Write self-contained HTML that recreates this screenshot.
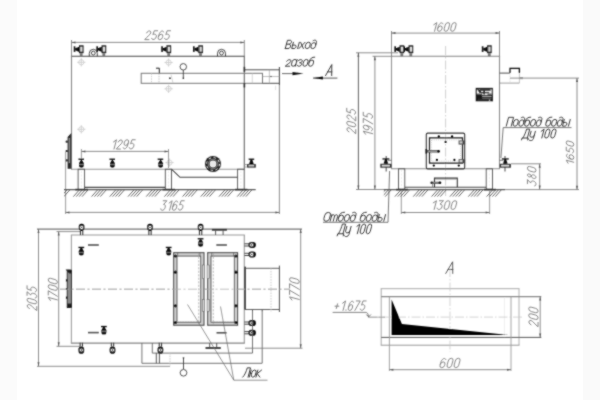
<!DOCTYPE html><html><head><meta charset="utf-8"><title>drawing</title><style>html,body{margin:0;padding:0;background:#fff;width:600px;height:400px;overflow:hidden}svg{display:block}text{font-family:"Liberation Sans",sans-serif;font-style:italic}</style></head><body>
<svg width="600" height="400" viewBox="0 0 600 400" shape-rendering="geometricPrecision">
<defs><clipPath id="clip64"><rect x="64" y="185" width="192" height="15"/></clipPath><clipPath id="clip383"><rect x="383.8" y="185" width="118" height="15"/></clipPath><filter id="bl" x="0" y="0" width="600" height="400" filterUnits="userSpaceOnUse"><feConvolveMatrix order="3" kernelMatrix="1 2 1 2 12 2 1 2 1" preserveAlpha="false"/></filter></defs>
<rect x="0" y="0" width="600" height="400" fill="#fff"/>
<rect x="0" y="0" width="17" height="400" fill="#fbfbfb"/>
<rect x="583" y="0" width="17" height="400" fill="#fafafa"/>
<g filter="url(#bl)">
<line x1="70.95" y1="56.3" x2="244.85000000000002" y2="56.3" stroke="#444" stroke-width="1.1" />
<line x1="244.3" y1="56.3" x2="244.3" y2="169.2" stroke="#666" stroke-width="1.1" />
<line x1="70.95" y1="169.2" x2="244.85000000000002" y2="169.2" stroke="#999" stroke-width="1.1" />
<line x1="71.5" y1="56.3" x2="71.5" y2="169.2" stroke="#888" stroke-width="1.1" />
<line x1="71.5" y1="40" x2="71.5" y2="56.3" stroke="#707070" stroke-width="0.8" />
<line x1="244.3" y1="40" x2="244.3" y2="56.3" stroke="#707070" stroke-width="0.8" />
<line x1="71.5" y1="42.4" x2="244.3" y2="42.4" stroke="#707070" stroke-width="0.8" />
<polygon points="71.5,42.4 75.5,41.4 75.5,43.4" fill="#555" stroke="none" stroke-width="0"/>
<polygon points="244.3,42.4 240.3,41.4 240.3,43.4" fill="#555" stroke="none" stroke-width="0"/>
<g transform="translate(144.75,39.65) skewX(-15) scale(0.9786,0.8900)" fill="none" stroke="#808080" stroke-width="0.95" stroke-linecap="round" stroke-linejoin="round"><path vector-effect="non-scaling-stroke" transform="translate(0.000,0) scale(0.86,1)" d="M0.1,-7.6 C0.3,-10.6 5,-10.6 5,-7.5 C5,-5.4 1.5,-3.2 0,0 L5,0"/><path vector-effect="non-scaling-stroke" transform="translate(6.600,0) scale(0.86,1)" d="M4.8,-10 L0.8,-10 L0.4,-5.6 C1.2,-6.4 5.1,-6.8 5.1,-3 C5.1,0.6 0.6,0.5 0,-1.5"/><path vector-effect="non-scaling-stroke" transform="translate(13.200,0) scale(0.86,1)" d="M4.7,-8.6 C4,-10.5 0,-10.6 0,-5.4 L0,-2.5 A2.5,2.5 0 0 0 5,-2.5 L5,-3.6 A2.5,2.5 0 0 0 0,-3.6"/><path vector-effect="non-scaling-stroke" transform="translate(19.800,0) scale(0.86,1)" d="M4.8,-10 L0.8,-10 L0.4,-5.6 C1.2,-6.4 5.1,-6.8 5.1,-3 C5.1,0.6 0.6,0.5 0,-1.5"/></g>
<g transform="translate(81.4,56.3)"><rect x="-7.7" y="-10" width="1.7" height="5.6" fill="#1a1a1a"/><polygon points="-6.2,-8 -2.2,-9.6 -2.2,-4.2 -6.2,-6" fill="#111"/><rect x="-2.4" y="-11" width="4.6" height="7.9" fill="#111"/><rect x="-1.2" y="-9.6" width="2.3" height="5.0" fill="#d8d8d8"/><rect x="-1.6" y="-3.2" width="2.8" height="3.2" fill="#777"/></g>
<g transform="translate(104.0,56.3)"><rect x="-7.7" y="-10" width="1.7" height="5.6" fill="#1a1a1a"/><polygon points="-6.2,-8 -2.2,-9.6 -2.2,-4.2 -6.2,-6" fill="#111"/><rect x="-2.4" y="-11" width="4.6" height="7.9" fill="#111"/><rect x="-1.2" y="-9.6" width="2.3" height="5.0" fill="#d8d8d8"/><rect x="-1.6" y="-3.2" width="2.8" height="3.2" fill="#777"/></g>
<g transform="translate(168.9,56.3)"><rect x="-7.7" y="-10" width="1.7" height="5.6" fill="#1a1a1a"/><polygon points="-6.2,-8 -2.2,-9.6 -2.2,-4.2 -6.2,-6" fill="#111"/><rect x="-2.4" y="-11" width="4.6" height="7.9" fill="#111"/><rect x="-1.2" y="-9.6" width="2.3" height="5.0" fill="#d8d8d8"/><rect x="-1.6" y="-3.2" width="2.8" height="3.2" fill="#777"/></g>
<g transform="translate(200.7,56.3)"><rect x="-7.7" y="-10" width="1.7" height="5.6" fill="#1a1a1a"/><polygon points="-6.2,-8 -2.2,-9.6 -2.2,-4.2 -6.2,-6" fill="#111"/><rect x="-2.4" y="-11" width="4.6" height="7.9" fill="#111"/><rect x="-1.2" y="-9.6" width="2.3" height="5.0" fill="#d8d8d8"/><rect x="-1.6" y="-3.2" width="2.8" height="3.2" fill="#777"/></g>
<g transform="translate(93.3,56.3)" fill="none" stroke="#333" stroke-width="0.9"><path d="M-4,0 L-4,-3 A4,4 0 0 1 4,-3 L4,0"/><circle cx="0" cy="-3.2" r="1.9"/></g>
<g transform="translate(221.5,56.3)" fill="none" stroke="#333" stroke-width="0.9"><path d="M-4,0 L-4,-3 A4,4 0 0 1 4,-3 L4,0"/><circle cx="0" cy="-3.2" r="1.9"/></g>
<g stroke="#c4c4c4" stroke-width="0.7" fill="none"><circle cx="81.3" cy="62.3" r="2.6"/><line x1="77.1" y1="62.3" x2="85.5" y2="62.3"/><line x1="81.3" y1="58.099999999999994" x2="81.3" y2="66.5"/></g>
<g stroke="#c4c4c4" stroke-width="0.7" fill="none"><circle cx="168.6" cy="62.5" r="2.6"/><line x1="164.4" y1="62.5" x2="172.79999999999998" y2="62.5"/><line x1="168.6" y1="58.3" x2="168.6" y2="66.7"/></g>
<g stroke="#c4c4c4" stroke-width="0.7" fill="none"><circle cx="168.6" cy="88.8" r="2.6"/><line x1="164.4" y1="88.8" x2="172.79999999999998" y2="88.8"/><line x1="168.6" y1="84.6" x2="168.6" y2="93.0"/></g>
<g stroke="#c4c4c4" stroke-width="0.7" fill="none"><circle cx="81.3" cy="129.3" r="2.6"/><line x1="77.1" y1="129.3" x2="85.5" y2="129.3"/><line x1="81.3" y1="125.10000000000001" x2="81.3" y2="133.5"/></g>
<g stroke="#c4c4c4" stroke-width="0.7" fill="none"><circle cx="169.5" cy="162.6" r="2.6"/><line x1="165.3" y1="162.6" x2="173.7" y2="162.6"/><line x1="169.5" y1="158.4" x2="169.5" y2="166.79999999999998"/></g>
<rect x="141.2" y="73.3" width="121.3" height="10.0" stroke="#777" stroke-width="1.0" fill="none" />
<line x1="151.5" y1="73.3" x2="151.5" y2="83.3" stroke="#bbb" stroke-width="0.7" stroke-dasharray="1.5,1"/>
<line x1="159.0" y1="73.3" x2="159.0" y2="83.3" stroke="#aaa" stroke-width="0.7" stroke-dasharray="1.5,1"/>
<path d="M156,68.2 L159.3,68.2 L159.3,73.3" fill="none" stroke="#222" stroke-width="1"/>
<circle cx="170" cy="78.2" r="0.9" fill="#222"/>
<line x1="171" y1="74.5" x2="173" y2="83" stroke="#bbb" stroke-width="0.6" />
<circle cx="183.3" cy="66.8" r="3.2" fill="#fff" stroke="#222" stroke-width="0.9"/>
<line x1="183.3" y1="70" x2="183.3" y2="78.2" stroke="#222" stroke-width="0.8" />
<circle cx="183.3" cy="78.2" r="0.8" fill="#222"/>
<line x1="244.3" y1="69.8" x2="279.4" y2="69.8" stroke="#505050" stroke-width="1.0" />
<line x1="262.5" y1="83.3" x2="279.4" y2="83.3" stroke="#505050" stroke-width="1.0" />
<line x1="279.4" y1="66.9" x2="279.4" y2="85.6" stroke="#505050" stroke-width="1.1" />
<line x1="252.3" y1="73.3" x2="252.3" y2="83.3" stroke="#bbb" stroke-width="0.6" />
<line x1="269.4" y1="69.8" x2="269.4" y2="83.3" stroke="#999" stroke-width="0.6" />
<line x1="262.5" y1="76.5" x2="279.4" y2="76.5" stroke="#999" stroke-width="0.6" />
<circle cx="271" cy="76.5" r="0.7" fill="#444"/>
<rect x="243.6" y="66.8" width="1.6" height="5" fill="#333"/>
<rect x="243.6" y="83.0" width="1.6" height="4.5" fill="#333"/>
<line x1="279.4" y1="85.6" x2="279.4" y2="214" stroke="#707070" stroke-width="0.8" />
<line x1="275.6" y1="85.6" x2="275.6" y2="90" stroke="#ccc" stroke-width="0.6" />
<line x1="282" y1="73.6" x2="300" y2="73.6" stroke="#444" stroke-width="0.8" />
<polygon points="303.5,73.6 292.5,71.9 292.5,75.3" fill="#111" stroke="none" stroke-width="0"/>
<g transform="translate(285.25,48.55) skewX(-15) scale(0.9532,0.8245)" fill="none" stroke="#3a3a3a" stroke-width="1.0" stroke-linecap="round" stroke-linejoin="round"><path vector-effect="non-scaling-stroke" transform="translate(0.000,0) scale(1.0,1)" d="M0,0 L0,-10 L2.9,-10 C5.3,-10 5.3,-5.3 2.9,-5.3 L0,-5.3 M2.9,-5.3 C5.8,-5.3 5.8,0 2.9,0 L0,0"/><path vector-effect="non-scaling-stroke" transform="translate(6.800,0) scale(1.0,1)" d="M0,-7.6 L0,0 L2.4,0 C4.5,0 4.5,-4.2 2.4,-4.2 L0,-4.2 M6.2,-7.6 L6.2,0"/><path vector-effect="non-scaling-stroke" transform="translate(14.400,0) scale(1.0,1)" d="M0,-7.6 L4.6,0 M4.6,-7.6 L0,0"/><path vector-effect="non-scaling-stroke" transform="translate(20.400,0) scale(1.0,1)" d="M0,-5.3 A2.3,2.3 0 0 1 4.6,-5.3 L4.6,-2.3 A2.3,2.3 0 0 1 0,-2.3 Z"/><path vector-effect="non-scaling-stroke" transform="translate(26.400,0) scale(1.0,1)" d="M0.6,-9.6 C1.8,-10.6 4.6,-10.6 4.6,-7.4 L4.6,-2.3 A2.3,2.3 0 0 1 0,-2.3 L0,-4.8 A2.3,2.3 0 0 1 4.6,-4.8"/></g>
<g transform="translate(285.25,66.21) skewX(-15) scale(0.9533,0.8879)" fill="none" stroke="#3a3a3a" stroke-width="1.0" stroke-linecap="round" stroke-linejoin="round"><path vector-effect="non-scaling-stroke" transform="translate(0.000,0) scale(1.0,1)" d="M0.1,-5.6 C0.4,-8 4.6,-8 4.6,-5.6 C4.6,-3.8 1.4,-2.4 0,0 L4.6,0"/><path vector-effect="non-scaling-stroke" transform="translate(6.000,0) scale(1.0,1)" d="M4.6,-7.6 L4.6,0 M4.6,-2.3 A2.3,2.3 0 0 1 0,-2.3 L0,-5.3 A2.3,2.3 0 0 1 4.6,-5.3"/><path vector-effect="non-scaling-stroke" transform="translate(12.000,0) scale(1.0,1)" d="M0,-6 C0.5,-8 4.4,-8 4.4,-5.8 C4.4,-4.4 3.2,-3.9 2,-3.9 C3.5,-3.9 4.6,-3.2 4.6,-1.9 C4.6,0.6 0.5,0.5 0,-1.1"/><path vector-effect="non-scaling-stroke" transform="translate(18.000,0) scale(1.0,1)" d="M0,-5.3 A2.3,2.3 0 0 1 4.6,-5.3 L4.6,-2.3 A2.3,2.3 0 0 1 0,-2.3 Z"/><path vector-effect="non-scaling-stroke" transform="translate(24.000,0) scale(1.0,1)" d="M4.4,-10.2 C1.4,-10.2 0,-9 0,-5.6 L0,-2.3 A2.3,2.3 0 0 0 4.6,-2.3 L4.6,-4.6 A2.3,2.3 0 0 0 0,-4.6"/></g>
<line x1="313" y1="78.1" x2="337.4" y2="78.1" stroke="#444" stroke-width="0.9" />
<polygon points="313,78.1 323,76.6 323,79.6" fill="#111" stroke="none" stroke-width="0"/>
<g transform="translate(325.55,75.65) skewX(-15) scale(1.0578,1.1100)" fill="none" stroke="#3a3a3a" stroke-width="1.0" stroke-linecap="round" stroke-linejoin="round"><path vector-effect="non-scaling-stroke" transform="translate(0.000,0) scale(1.0,1)" d="M0,0 L3.1,-10 L5.8,0 M1.05,-3.4 L5.0,-3.4"/></g>
<path d="M71.3,133 L71.3,168.8 L67.6,168.8 L67.6,137 Z" fill="#2a2a2a"/>
<rect x="68.7" y="138" width="1.3" height="25" fill="#8a8a8a"/>
<rect x="65.7" y="140.6" width="2.2" height="2.2" rx="0.6" fill="#333"/>
<rect x="65.7" y="149.9" width="2.2" height="2.2" rx="0.6" fill="#333"/>
<rect x="65.7" y="159.3" width="2.2" height="2.2" rx="0.6" fill="#333"/>
<line x1="65.6" y1="151.5" x2="65.6" y2="214" stroke="#707070" stroke-width="0.7" />
<line x1="81.4" y1="149" x2="81.4" y2="158.5" stroke="#707070" stroke-width="0.7" />
<line x1="168.5" y1="149" x2="168.5" y2="168" stroke="#707070" stroke-width="0.7" />
<line x1="81.4" y1="151.4" x2="168.5" y2="151.4" stroke="#707070" stroke-width="0.8" />
<polygon points="81.4,151.4 85.4,150.4 85.4,152.4" fill="#555" stroke="none" stroke-width="0"/>
<polygon points="168.5,151.4 164.5,150.4 164.5,152.4" fill="#555" stroke="none" stroke-width="0"/>
<g transform="translate(110.74,149.05) skewX(-15) scale(0.9474,0.9300)" fill="none" stroke="#808080" stroke-width="0.95" stroke-linecap="round" stroke-linejoin="round"><path vector-effect="non-scaling-stroke" transform="translate(0.000,0) scale(0.86,1)" d="M1.0,-7.6 L4,-10 L4,0"/><path vector-effect="non-scaling-stroke" transform="translate(5.912,0) scale(0.86,1)" d="M0.1,-7.6 C0.3,-10.6 5,-10.6 5,-7.5 C5,-5.4 1.5,-3.2 0,0 L5,0"/><path vector-effect="non-scaling-stroke" transform="translate(12.512,0) scale(0.86,1)" d="M0.3,-1.4 C1,0.5 5,0.6 5,-4.6 L5,-7.5 A2.5,2.5 0 0 0 0,-7.5 L0,-6.4 A2.5,2.5 0 0 0 5,-6.4"/><path vector-effect="non-scaling-stroke" transform="translate(19.112,0) scale(0.86,1)" d="M4.8,-10 L0.8,-10 L0.4,-5.6 C1.2,-6.4 5.1,-6.8 5.1,-3 C5.1,0.6 0.6,0.5 0,-1.5"/></g>
<g transform="translate(81.4,159.2)"><rect x="-3" y="-0.6" width="5.6" height="1.3" fill="#111"/><rect x="-0.7" y="0" width="1.4" height="2" fill="#111"/><path d="M-1.2,1.8 L1.2,1.8 L2.4,4 L2.4,6.5 Q2.4,8.6 0,8.6 Q-2.4,8.6 -2.4,6.5 L-2.4,4 Z" fill="#111"/><rect x="-2.4" y="5.1" width="4.8" height="0.6" fill="#aaa"/></g>
<g transform="translate(112.4,159.2)"><rect x="-3" y="-0.6" width="5.6" height="1.3" fill="#111"/><rect x="-0.7" y="0" width="1.4" height="2" fill="#111"/><path d="M-1.2,1.8 L1.2,1.8 L2.4,4 L2.4,6.5 Q2.4,8.6 0,8.6 Q-2.4,8.6 -2.4,6.5 L-2.4,4 Z" fill="#111"/><rect x="-2.4" y="5.1" width="4.8" height="0.6" fill="#aaa"/></g>
<g transform="translate(160.6,159.2)"><rect x="-3" y="-0.6" width="5.6" height="1.3" fill="#111"/><rect x="-0.7" y="0" width="1.4" height="2" fill="#111"/><path d="M-1.2,1.8 L1.2,1.8 L2.4,4 L2.4,6.5 Q2.4,8.6 0,8.6 Q-2.4,8.6 -2.4,6.5 L-2.4,4 Z" fill="#111"/><rect x="-2.4" y="5.1" width="4.8" height="0.6" fill="#aaa"/></g>
<rect x="78.1" y="169.2" width="6.5" height="20.2" stroke="#505050" stroke-width="0.9" fill="none" />
<line x1="81.4" y1="171" x2="81.4" y2="188" stroke="#e2e2e2" stroke-width="0.6" stroke-dasharray="2,1.5"/>
<rect x="165.3" y="169.2" width="6.2" height="20.2" stroke="#505050" stroke-width="0.9" fill="none" />
<line x1="168.4" y1="171" x2="168.4" y2="188" stroke="#e2e2e2" stroke-width="0.6" stroke-dasharray="2,1.5"/>
<rect x="237.6" y="169.2" width="6.6" height="20.2" stroke="#505050" stroke-width="0.9" fill="none" />
<line x1="240.9" y1="171" x2="240.9" y2="188" stroke="#e2e2e2" stroke-width="0.6" stroke-dasharray="2,1.5"/>
<line x1="84.6" y1="187.3" x2="165.3" y2="187.3" stroke="#444" stroke-width="1.2" />
<path d="M171.5,169.2 L180,177.3 L237.6,177.3" fill="none" stroke="#444" stroke-width="1.1"/>
<g transform="translate(213.0,164.0)"><circle r="8" fill="#1a1a1a"/><circle r="6.4" fill="none" stroke="#e8e8e8" stroke-width="1.0" stroke-dasharray="2.3,2.7"/><circle r="4.75" fill="none" stroke="#c8c8c8" stroke-width="0.6"/><circle r="3.4" fill="#e8e8e8"/></g>
<line x1="244.3" y1="164.6" x2="247" y2="164.6" stroke="#888" stroke-width="0.8" />
<line x1="244.3" y1="167.0" x2="247" y2="167.0" stroke="#888" stroke-width="0.8" />
<g><rect x="248.60" y="158.60" width="5.6" height="1.3" fill="#111"/><polygon points="250.60,159.20 252.20,159.20 253.70,164.10 249.10,164.10" fill="#111"/><rect x="247.05" y="164.10" width="8.7" height="3.50" fill="#1a1a1a"/><rect x="248.35" y="165.10" width="5.90" height="1.40" fill="#d8d8d8"/></g>
<line x1="64" y1="189.7" x2="255.7" y2="189.7" stroke="#5a5a5a" stroke-width="1.3" />
<rect x="75.2" y="188.8" width="12.8" height="1.6" fill="#333"/>
<rect x="162.5" y="188.8" width="12.5" height="1.6" fill="#333"/>
<rect x="235" y="188.8" width="12.5" height="1.6" fill="#333"/>
<g stroke="#5a5a5a" stroke-width="0.9" clip-path="url(#clip64)">
<line x1="55.20" y1="196.6" x2="61.20" y2="189.8"/>
<line x1="58.10" y1="196.6" x2="64.10" y2="189.8"/>
<line x1="61.00" y1="196.6" x2="67.00" y2="189.8"/>
<line x1="63.90" y1="196.6" x2="69.90" y2="189.8"/>
<line x1="73.40" y1="196.6" x2="79.40" y2="189.8"/>
<line x1="76.30" y1="196.6" x2="82.30" y2="189.8"/>
<line x1="79.20" y1="196.6" x2="85.20" y2="189.8"/>
<line x1="82.10" y1="196.6" x2="88.10" y2="189.8"/>
<line x1="91.60" y1="196.6" x2="97.60" y2="189.8"/>
<line x1="94.50" y1="196.6" x2="100.50" y2="189.8"/>
<line x1="97.40" y1="196.6" x2="103.40" y2="189.8"/>
<line x1="100.30" y1="196.6" x2="106.30" y2="189.8"/>
<line x1="109.80" y1="196.6" x2="115.80" y2="189.8"/>
<line x1="112.70" y1="196.6" x2="118.70" y2="189.8"/>
<line x1="115.60" y1="196.6" x2="121.60" y2="189.8"/>
<line x1="118.50" y1="196.6" x2="124.50" y2="189.8"/>
<line x1="128.00" y1="196.6" x2="134.00" y2="189.8"/>
<line x1="130.90" y1="196.6" x2="136.90" y2="189.8"/>
<line x1="133.80" y1="196.6" x2="139.80" y2="189.8"/>
<line x1="136.70" y1="196.6" x2="142.70" y2="189.8"/>
<line x1="146.20" y1="196.6" x2="152.20" y2="189.8"/>
<line x1="149.10" y1="196.6" x2="155.10" y2="189.8"/>
<line x1="152.00" y1="196.6" x2="158.00" y2="189.8"/>
<line x1="154.90" y1="196.6" x2="160.90" y2="189.8"/>
<line x1="164.40" y1="196.6" x2="170.40" y2="189.8"/>
<line x1="167.30" y1="196.6" x2="173.30" y2="189.8"/>
<line x1="170.20" y1="196.6" x2="176.20" y2="189.8"/>
<line x1="173.10" y1="196.6" x2="179.10" y2="189.8"/>
<line x1="182.60" y1="196.6" x2="188.60" y2="189.8"/>
<line x1="185.50" y1="196.6" x2="191.50" y2="189.8"/>
<line x1="188.40" y1="196.6" x2="194.40" y2="189.8"/>
<line x1="191.30" y1="196.6" x2="197.30" y2="189.8"/>
<line x1="200.80" y1="196.6" x2="206.80" y2="189.8"/>
<line x1="203.70" y1="196.6" x2="209.70" y2="189.8"/>
<line x1="206.60" y1="196.6" x2="212.60" y2="189.8"/>
<line x1="209.50" y1="196.6" x2="215.50" y2="189.8"/>
<line x1="219.00" y1="196.6" x2="225.00" y2="189.8"/>
<line x1="221.90" y1="196.6" x2="227.90" y2="189.8"/>
<line x1="224.80" y1="196.6" x2="230.80" y2="189.8"/>
<line x1="227.70" y1="196.6" x2="233.70" y2="189.8"/>
<line x1="237.20" y1="196.6" x2="243.20" y2="189.8"/>
<line x1="240.10" y1="196.6" x2="246.10" y2="189.8"/>
<line x1="243.00" y1="196.6" x2="249.00" y2="189.8"/>
<line x1="245.90" y1="196.6" x2="251.90" y2="189.8"/>
</g>
<line x1="65.5" y1="212.4" x2="279.4" y2="212.4" stroke="#707070" stroke-width="0.8" />
<polygon points="65.5,212.4 69.5,211.4 69.5,213.4" fill="#555" stroke="none" stroke-width="0"/>
<polygon points="279.4,212.4 275.4,211.4 275.4,213.4" fill="#555" stroke="none" stroke-width="0"/>
<g transform="translate(160.37,210.25) skewX(-15) scale(0.9181,0.9500)" fill="none" stroke="#808080" stroke-width="0.95" stroke-linecap="round" stroke-linejoin="round"><path vector-effect="non-scaling-stroke" transform="translate(0.000,0) scale(0.86,1)" d="M0.4,-10 L5,-10 L2.1,-6.1 C4,-6.2 5.1,-5 5.1,-3 C5.1,-0.6 3.6,0 2.5,0 C1.2,0 0.3,-0.5 0,-1.5"/><path vector-effect="non-scaling-stroke" transform="translate(6.600,0) scale(0.86,1)" d="M1.0,-7.6 L4,-10 L4,0"/><path vector-effect="non-scaling-stroke" transform="translate(12.512,0) scale(0.86,1)" d="M4.7,-8.6 C4,-10.5 0,-10.6 0,-5.4 L0,-2.5 A2.5,2.5 0 0 0 5,-2.5 L5,-3.6 A2.5,2.5 0 0 0 0,-3.6"/><path vector-effect="non-scaling-stroke" transform="translate(19.112,0) scale(0.86,1)" d="M4.8,-10 L0.8,-10 L0.4,-5.6 C1.2,-6.4 5.1,-6.8 5.1,-3 C5.1,0.6 0.6,0.5 0,-1.5"/></g>
<line x1="390.95" y1="56.3" x2="500.05" y2="56.3" stroke="#858585" stroke-width="1.1" />
<line x1="499.5" y1="56.3" x2="499.5" y2="168.8" stroke="#8a8a8a" stroke-width="1.1" />
<line x1="390.95" y1="168.8" x2="500.05" y2="168.8" stroke="#8a8a8a" stroke-width="1.1" />
<line x1="391.5" y1="56.3" x2="391.5" y2="168.8" stroke="#939393" stroke-width="1.1" />
<line x1="391.5" y1="31" x2="391.5" y2="56.3" stroke="#707070" stroke-width="0.8" />
<line x1="499.5" y1="31" x2="499.5" y2="56.3" stroke="#707070" stroke-width="0.8" />
<line x1="391.5" y1="33.1" x2="499.5" y2="33.1" stroke="#707070" stroke-width="0.8" />
<polygon points="391.5,33.1 395.5,32.1 395.5,34.1" fill="#555" stroke="none" stroke-width="0"/>
<polygon points="499.5,33.1 495.5,32.1 495.5,34.1" fill="#555" stroke="none" stroke-width="0"/>
<g transform="translate(431.15,31.25) skewX(-15) scale(0.9909,0.8600)" fill="none" stroke="#808080" stroke-width="0.95" stroke-linecap="round" stroke-linejoin="round"><path vector-effect="non-scaling-stroke" transform="translate(0.000,0) scale(0.86,1)" d="M1.0,-7.6 L4,-10 L4,0"/><path vector-effect="non-scaling-stroke" transform="translate(5.912,0) scale(0.86,1)" d="M4.7,-8.6 C4,-10.5 0,-10.6 0,-5.4 L0,-2.5 A2.5,2.5 0 0 0 5,-2.5 L5,-3.6 A2.5,2.5 0 0 0 0,-3.6"/><path vector-effect="non-scaling-stroke" transform="translate(12.512,0) scale(0.86,1)" d="M0,-7.5 A2.5,2.5 0 0 1 5,-7.5 L5,-2.5 A2.5,2.5 0 0 1 0,-2.5 Z"/><path vector-effect="non-scaling-stroke" transform="translate(19.112,0) scale(0.86,1)" d="M0,-7.5 A2.5,2.5 0 0 1 5,-7.5 L5,-2.5 A2.5,2.5 0 0 1 0,-2.5 Z"/></g>
<g transform="translate(402.0,56.3)"><rect x="-7.7" y="-10" width="1.7" height="5.6" fill="#1a1a1a"/><polygon points="-6.2,-8 -2.2,-9.6 -2.2,-4.2 -6.2,-6" fill="#111"/><rect x="-2.4" y="-11" width="4.6" height="7.9" fill="#111"/><rect x="-1.2" y="-9.6" width="2.3" height="5.0" fill="#d8d8d8"/><rect x="-1.6" y="-3.2" width="2.8" height="3.2" fill="#777"/></g>
<g transform="translate(411.0,56.3)"><rect x="-7.7" y="-10" width="1.7" height="5.6" fill="#1a1a1a"/><polygon points="-6.2,-8 -2.2,-9.6 -2.2,-4.2 -6.2,-6" fill="#111"/><rect x="-2.4" y="-11" width="4.6" height="7.9" fill="#111"/><rect x="-1.2" y="-9.6" width="2.3" height="5.0" fill="#d8d8d8"/><rect x="-1.6" y="-3.2" width="2.8" height="3.2" fill="#777"/></g>
<g transform="translate(489.5,56.3)"><rect x="-7.7" y="-10" width="1.7" height="5.6" fill="#1a1a1a"/><polygon points="-6.2,-8 -2.2,-9.6 -2.2,-4.2 -6.2,-6" fill="#111"/><rect x="-2.4" y="-11" width="4.6" height="7.9" fill="#111"/><rect x="-1.2" y="-9.6" width="2.3" height="5.0" fill="#d8d8d8"/><rect x="-1.6" y="-3.2" width="2.8" height="3.2" fill="#777"/></g>
<line x1="445.6" y1="46" x2="445.6" y2="196" stroke="#bbb" stroke-width="0.7" stroke-dasharray="9,2,1.5,2"/>
<line x1="356" y1="52.8" x2="398" y2="52.8" stroke="#707070" stroke-width="0.8" />
<line x1="372.5" y1="56.3" x2="391.5" y2="56.3" stroke="#707070" stroke-width="0.8" />
<line x1="358.4" y1="52.8" x2="358.4" y2="189.5" stroke="#505050" stroke-width="0.9" />
<polygon points="358.4,52.8 357.4,56.8 359.4,56.8" fill="#555" stroke="none" stroke-width="0"/>
<polygon points="358.4,189.5 357.4,185.5 359.4,185.5" fill="#555" stroke="none" stroke-width="0"/>
<line x1="374.9" y1="56.3" x2="374.9" y2="189.5" stroke="#707070" stroke-width="0.8" />
<polygon points="374.9,56.3 373.9,60.3 375.9,60.3" fill="#555" stroke="none" stroke-width="0"/>
<polygon points="374.9,189.5 373.9,185.5 375.9,185.5" fill="#555" stroke="none" stroke-width="0"/>
<line x1="356" y1="189.5" x2="391.5" y2="189.5" stroke="#707070" stroke-width="0.8" />
<g transform="translate(346.30,134.20) rotate(-90) translate(0.45,9.45) skewX(-15) scale(0.9649,0.9000)" fill="none" stroke="#808080" stroke-width="0.95" stroke-linecap="round" stroke-linejoin="round"><path vector-effect="non-scaling-stroke" transform="translate(0.000,0) scale(0.86,1)" d="M0.1,-7.6 C0.3,-10.6 5,-10.6 5,-7.5 C5,-5.4 1.5,-3.2 0,0 L5,0"/><path vector-effect="non-scaling-stroke" transform="translate(6.600,0) scale(0.86,1)" d="M0,-7.5 A2.5,2.5 0 0 1 5,-7.5 L5,-2.5 A2.5,2.5 0 0 1 0,-2.5 Z"/><path vector-effect="non-scaling-stroke" transform="translate(13.200,0) scale(0.86,1)" d="M0.1,-7.6 C0.3,-10.6 5,-10.6 5,-7.5 C5,-5.4 1.5,-3.2 0,0 L5,0"/><path vector-effect="non-scaling-stroke" transform="translate(19.800,0) scale(0.86,1)" d="M4.8,-10 L0.8,-10 L0.4,-5.6 C1.2,-6.4 5.1,-6.8 5.1,-3 C5.1,0.6 0.6,0.5 0,-1.5"/></g>
<g transform="translate(362.80,134.70) rotate(-90) translate(-2.31,9.95) skewX(-15) scale(0.9557,0.9500)" fill="none" stroke="#808080" stroke-width="0.95" stroke-linecap="round" stroke-linejoin="round"><path vector-effect="non-scaling-stroke" transform="translate(0.000,0) scale(0.86,1)" d="M1.0,-7.6 L4,-10 L4,0"/><path vector-effect="non-scaling-stroke" transform="translate(5.912,0) scale(0.86,1)" d="M0.3,-1.4 C1,0.5 5,0.6 5,-4.6 L5,-7.5 A2.5,2.5 0 0 0 0,-7.5 L0,-6.4 A2.5,2.5 0 0 0 5,-6.4"/><path vector-effect="non-scaling-stroke" transform="translate(12.512,0) scale(0.86,1)" d="M0,-10 L5,-10 L1.4,0"/><path vector-effect="non-scaling-stroke" transform="translate(19.112,0) scale(0.86,1)" d="M4.8,-10 L0.8,-10 L0.4,-5.6 C1.2,-6.4 5.1,-6.8 5.1,-3 C5.1,0.6 0.6,0.5 0,-1.5"/></g>
<g><rect x="475.7" y="87.9" width="17.2" height="13.4" fill="#141414"/><rect x="477.0" y="89.3" width="14.7" height="5.6" fill="#f2f2f2"/><rect x="480.0" y="89.3" width="10.5" height="1.5" fill="#111"/><polygon points="477.0,89.3 479.2,89.3 481.8,92.6 479.6,93.2" fill="#111"/><rect x="480.8" y="91.9" width="8.4" height="1.4" fill="#111"/><rect x="483.4" y="90.2" width="1.6" height="4.2" fill="#111"/><rect x="477.0" y="93.6" width="5.2" height="1.3" fill="#333"/><rect x="487.5" y="93.5" width="4.2" height="1.4" fill="#555"/><rect x="482.2" y="96.1" width="9.4" height="0.8" fill="#bdbdbd"/><rect x="482.2" y="97.9" width="9.4" height="0.7" fill="#8a8a8a"/><rect x="477.6" y="99.7" width="13.8" height="0.5" fill="#666"/><circle cx="489.6" cy="100.1" r="0.6" fill="#eee"/></g>
<line x1="499.5" y1="73.1" x2="510" y2="73.1" stroke="#505050" stroke-width="1.0" />
<path d="M510,73.1 L510,68.3 L519.4,68.3 L519.4,73.1" fill="none" stroke="#111" stroke-width="1.3"/>
<line x1="499.5" y1="83.1" x2="519.4" y2="83.1" stroke="#888" stroke-width="0.8" />
<line x1="519.4" y1="73.1" x2="519.4" y2="83.1" stroke="#aaa" stroke-width="0.7" />
<line x1="510" y1="73.1" x2="510" y2="83.1" stroke="#ccc" stroke-width="0.6" stroke-dasharray="1.5,1"/>
<line x1="510" y1="78.1" x2="579" y2="78.1" stroke="#707070" stroke-width="0.8" />
<rect x="519.5" y="77" width="3.5" height="2.2" fill="#999"/>
<line x1="577.0" y1="78.1" x2="577.0" y2="189.7" stroke="#707070" stroke-width="0.8" />
<polygon points="577.0,78.1 576.0,82.1 578.0,82.1" fill="#555" stroke="none" stroke-width="0"/>
<polygon points="577.0,189.7 576.0,185.7 578.0,185.7" fill="#555" stroke="none" stroke-width="0"/>
<g transform="translate(565.80,163.70) rotate(-90) translate(-1.93,7.95) skewX(-15) scale(0.9872,0.7500)" fill="none" stroke="#808080" stroke-width="0.95" stroke-linecap="round" stroke-linejoin="round"><path vector-effect="non-scaling-stroke" transform="translate(0.000,0) scale(0.86,1)" d="M1.0,-7.6 L4,-10 L4,0"/><path vector-effect="non-scaling-stroke" transform="translate(5.912,0) scale(0.86,1)" d="M4.7,-8.6 C4,-10.5 0,-10.6 0,-5.4 L0,-2.5 A2.5,2.5 0 0 0 5,-2.5 L5,-3.6 A2.5,2.5 0 0 0 0,-3.6"/><path vector-effect="non-scaling-stroke" transform="translate(12.512,0) scale(0.86,1)" d="M4.8,-10 L0.8,-10 L0.4,-5.6 C1.2,-6.4 5.1,-6.8 5.1,-3 C5.1,0.6 0.6,0.5 0,-1.5"/><path vector-effect="non-scaling-stroke" transform="translate(19.112,0) scale(0.86,1)" d="M0,-7.5 A2.5,2.5 0 0 1 5,-7.5 L5,-2.5 A2.5,2.5 0 0 1 0,-2.5 Z"/></g>
<rect x="426.3" y="133.1" width="38.4" height="35.8" rx="1.5" fill="none" stroke="#333" stroke-width="1.1"/>
<rect x="429.5" y="137.9" width="33" height="25.2" fill="none" stroke="#222" stroke-width="1.3"/>
<rect x="431.5" y="140" width="29" height="21" fill="none" stroke="#aaa" stroke-width="0.6" stroke-dasharray="1,1.2"/>
<circle cx="438.8" cy="136.5" r="1.15" fill="#000"/>
<circle cx="452.1" cy="136.5" r="1.15" fill="#000"/>
<circle cx="445.6" cy="141.9" r="1.15" fill="#000"/>
<circle cx="436.9" cy="160.0" r="1.15" fill="#000"/>
<circle cx="454.4" cy="160.0" r="1.15" fill="#000"/>
<circle cx="433.8" cy="165.6" r="1.15" fill="#000"/>
<circle cx="458.8" cy="165.6" r="1.15" fill="#000"/>
<rect x="458.6" y="140.5" width="6.5" height="4" fill="#444"/><rect x="459.5" y="141.3" width="3" height="2.2" fill="#ccc"/>
<rect x="458.6" y="159.2" width="6.5" height="4" fill="#444"/><rect x="459.5" y="160" width="3" height="2.2" fill="#ccc"/>
<rect x="426" y="150.1" width="12.5" height="2.4" fill="#333"/><rect x="427.5" y="150.7" width="9.5" height="1.0" fill="#bbb"/>
<circle cx="438.6" cy="151.3" r="1.4" fill="#111"/>
<rect x="425.5" y="149" width="1.6" height="4.6" fill="#111"/>
<rect x="398.5" y="168.8" width="6.3" height="20.4" stroke="#505050" stroke-width="0.9" fill="none" />
<line x1="401.6" y1="170" x2="401.6" y2="188" stroke="#e2e2e2" stroke-width="0.6" stroke-dasharray="2,1.5"/>
<rect x="486.2" y="168.8" width="6.3" height="20.4" stroke="#505050" stroke-width="0.9" fill="none" />
<line x1="489.3" y1="170" x2="489.3" y2="188" stroke="#e2e2e2" stroke-width="0.6" stroke-dasharray="2,1.5"/>
<line x1="404.8" y1="187.2" x2="486.2" y2="187.2" stroke="#444" stroke-width="1.1" />
<path d="M434.5,187.2 L434.5,178.1 L457.3,178.1 L457.3,187.2" fill="none" stroke="#333" stroke-width="1.1"/>
<line x1="435" y1="179.5" x2="457" y2="179.5" stroke="#999" stroke-width="0.6" />
<rect x="431" y="181.8" width="9.5" height="2.0" rx="1" fill="#333"/><rect x="432.5" y="182.4" width="6" height="0.8" fill="#aaa"/>
<circle cx="440" cy="182.8" r="1.3" fill="#111"/><circle cx="431.6" cy="182.8" r="1.2" fill="#222"/>
<line x1="432.6" y1="183.5" x2="432.6" y2="187.2" stroke="#777" stroke-width="0.9" />
<line x1="387.5" y1="160.3" x2="391.5" y2="160.3" stroke="#555" stroke-width="0.8" />
<g><line x1="386.2" y1="156.1" x2="386.2" y2="171.6" stroke="#666" stroke-width="1.2"/><rect x="382.40" y="158.30" width="7.0" height="1.3" fill="#111"/><polygon points="385.10,158.90 386.70,158.90 388.20,163.80 383.60,163.80" fill="#111"/><rect x="380.40" y="163.80" width="11.0" height="3.90" fill="#1a1a1a"/><rect x="381.70" y="164.80" width="8.20" height="1.80" fill="#d8d8d8"/></g>
<line x1="499.5" y1="160.3" x2="503.5" y2="160.3" stroke="#555" stroke-width="0.8" />
<g><line x1="505.0" y1="156.1" x2="505.0" y2="171.6" stroke="#666" stroke-width="1.2"/><rect x="501.80" y="158.30" width="7.0" height="1.3" fill="#111"/><polygon points="504.50,158.90 506.10,158.90 507.60,163.80 503.00,163.80" fill="#111"/><rect x="499.80" y="163.80" width="11.0" height="3.90" fill="#1a1a1a"/><rect x="501.10" y="164.80" width="8.20" height="1.80" fill="#d8d8d8"/></g>
<line x1="383.8" y1="189.7" x2="505" y2="189.7" stroke="#5a5a5a" stroke-width="1.3" />
<line x1="505" y1="189.6" x2="579" y2="189.6" stroke="#707070" stroke-width="0.8" />
<rect x="396" y="188.8" width="12" height="1.6" fill="#333"/>
<rect x="484" y="188.8" width="12" height="1.6" fill="#333"/>
<g stroke="#5a5a5a" stroke-width="0.9" clip-path="url(#clip383)">
<line x1="376.55" y1="196.6" x2="382.55" y2="189.8"/>
<line x1="379.45" y1="196.6" x2="385.45" y2="189.8"/>
<line x1="382.35" y1="196.6" x2="388.35" y2="189.8"/>
<line x1="385.25" y1="196.6" x2="391.25" y2="189.8"/>
<line x1="394.90" y1="196.6" x2="400.90" y2="189.8"/>
<line x1="397.80" y1="196.6" x2="403.80" y2="189.8"/>
<line x1="400.70" y1="196.6" x2="406.70" y2="189.8"/>
<line x1="403.60" y1="196.6" x2="409.60" y2="189.8"/>
<line x1="413.25" y1="196.6" x2="419.25" y2="189.8"/>
<line x1="416.15" y1="196.6" x2="422.15" y2="189.8"/>
<line x1="419.05" y1="196.6" x2="425.05" y2="189.8"/>
<line x1="421.95" y1="196.6" x2="427.95" y2="189.8"/>
<line x1="431.60" y1="196.6" x2="437.60" y2="189.8"/>
<line x1="434.50" y1="196.6" x2="440.50" y2="189.8"/>
<line x1="437.40" y1="196.6" x2="443.40" y2="189.8"/>
<line x1="440.30" y1="196.6" x2="446.30" y2="189.8"/>
<line x1="449.95" y1="196.6" x2="455.95" y2="189.8"/>
<line x1="452.85" y1="196.6" x2="458.85" y2="189.8"/>
<line x1="455.75" y1="196.6" x2="461.75" y2="189.8"/>
<line x1="458.65" y1="196.6" x2="464.65" y2="189.8"/>
<line x1="468.30" y1="196.6" x2="474.30" y2="189.8"/>
<line x1="471.20" y1="196.6" x2="477.20" y2="189.8"/>
<line x1="474.10" y1="196.6" x2="480.10" y2="189.8"/>
<line x1="477.00" y1="196.6" x2="483.00" y2="189.8"/>
<line x1="486.65" y1="196.6" x2="492.65" y2="189.8"/>
<line x1="489.55" y1="196.6" x2="495.55" y2="189.8"/>
<line x1="492.45" y1="196.6" x2="498.45" y2="189.8"/>
<line x1="495.35" y1="196.6" x2="501.35" y2="189.8"/>
<line x1="505.00" y1="196.6" x2="511.00" y2="189.8"/>
<line x1="507.90" y1="196.6" x2="513.90" y2="189.8"/>
<line x1="510.80" y1="196.6" x2="516.80" y2="189.8"/>
<line x1="513.70" y1="196.6" x2="519.70" y2="189.8"/>
</g>
<line x1="401.3" y1="191" x2="401.3" y2="214" stroke="#707070" stroke-width="0.7" />
<line x1="489.6" y1="191" x2="489.6" y2="214" stroke="#707070" stroke-width="0.7" />
<line x1="401.3" y1="212.5" x2="489.6" y2="212.5" stroke="#707070" stroke-width="0.8" />
<polygon points="401.3,212.5 405.3,211.5 405.3,213.5" fill="#555" stroke="none" stroke-width="0"/>
<polygon points="489.6,212.5 485.6,211.5 485.6,213.5" fill="#555" stroke="none" stroke-width="0"/>
<g transform="translate(430.58,209.45) skewX(-15) scale(1.0398,0.8700)" fill="none" stroke="#808080" stroke-width="0.95" stroke-linecap="round" stroke-linejoin="round"><path vector-effect="non-scaling-stroke" transform="translate(0.000,0) scale(0.86,1)" d="M1.0,-7.6 L4,-10 L4,0"/><path vector-effect="non-scaling-stroke" transform="translate(5.912,0) scale(0.86,1)" d="M0.4,-10 L5,-10 L2.1,-6.1 C4,-6.2 5.1,-5 5.1,-3 C5.1,-0.6 3.6,0 2.5,0 C1.2,0 0.3,-0.5 0,-1.5"/><path vector-effect="non-scaling-stroke" transform="translate(12.512,0) scale(0.86,1)" d="M0,-7.5 A2.5,2.5 0 0 1 5,-7.5 L5,-2.5 A2.5,2.5 0 0 1 0,-2.5 Z"/><path vector-effect="non-scaling-stroke" transform="translate(19.112,0) scale(0.86,1)" d="M0,-7.5 A2.5,2.5 0 0 1 5,-7.5 L5,-2.5 A2.5,2.5 0 0 1 0,-2.5 Z"/></g>
<line x1="511" y1="163.8" x2="541" y2="163.8" stroke="#707070" stroke-width="0.8" />
<line x1="539.7" y1="163.8" x2="539.7" y2="189.6" stroke="#707070" stroke-width="0.8" />
<polygon points="539.7,163.8 538.7,167.8 540.7,167.8" fill="#555" stroke="none" stroke-width="0"/>
<polygon points="539.7,189.6 538.7,185.6 540.7,185.6" fill="#555" stroke="none" stroke-width="0"/>
<g transform="translate(527.00,186.40) rotate(-90) translate(0.11,8.95) skewX(-15) scale(1.0321,0.8500)" fill="none" stroke="#808080" stroke-width="0.95" stroke-linecap="round" stroke-linejoin="round"><path vector-effect="non-scaling-stroke" transform="translate(0.000,0) scale(0.86,1)" d="M0.4,-10 L5,-10 L2.1,-6.1 C4,-6.2 5.1,-5 5.1,-3 C5.1,-0.6 3.6,0 2.5,0 C1.2,0 0.3,-0.5 0,-1.5"/><path vector-effect="non-scaling-stroke" transform="translate(6.600,0) scale(0.86,1)" d="M2.5,-5.5 C0.4,-5.5 0.2,-10 2.5,-10 C4.8,-10 4.6,-5.5 2.5,-5.5 C-0.2,-5.5 -0.2,0 2.5,0 C5.2,0 5.2,-5.5 2.5,-5.5 Z"/><path vector-effect="non-scaling-stroke" transform="translate(13.200,0) scale(0.86,1)" d="M0,-7.5 A2.5,2.5 0 0 1 5,-7.5 L5,-2.5 A2.5,2.5 0 0 1 0,-2.5 Z"/></g>
<g transform="translate(506.25,126.15) skewX(-15) scale(0.9599,0.8824)" fill="none" stroke="#3a3a3a" stroke-width="1.0" stroke-linecap="round" stroke-linejoin="round"><path vector-effect="non-scaling-stroke" transform="translate(0.000,0) scale(1.0,1)" d="M0,0 L0,-10 L5.2,-10 L5.2,0"/><path vector-effect="non-scaling-stroke" transform="translate(6.600,0) scale(1.0,1)" d="M0,-5.3 A2.3,2.3 0 0 1 4.6,-5.3 L4.6,-2.3 A2.3,2.3 0 0 1 0,-2.3 Z"/><path vector-effect="non-scaling-stroke" transform="translate(12.600,0) scale(1.0,1)" d="M0.6,-9.6 C1.8,-10.6 4.6,-10.6 4.6,-7.4 L4.6,-2.3 A2.3,2.3 0 0 1 0,-2.3 L0,-4.8 A2.3,2.3 0 0 1 4.6,-4.8"/><path vector-effect="non-scaling-stroke" transform="translate(18.600,0) scale(1.0,1)" d="M4.4,-10.2 C1.4,-10.2 0,-9 0,-5.6 L0,-2.3 A2.3,2.3 0 0 0 4.6,-2.3 L4.6,-4.6 A2.3,2.3 0 0 0 0,-4.6"/><path vector-effect="non-scaling-stroke" transform="translate(24.600,0) scale(1.0,1)" d="M0,-5.3 A2.3,2.3 0 0 1 4.6,-5.3 L4.6,-2.3 A2.3,2.3 0 0 1 0,-2.3 Z"/><path vector-effect="non-scaling-stroke" transform="translate(30.600,0) scale(1.0,1)" d="M0.6,-9.6 C1.8,-10.6 4.6,-10.6 4.6,-7.4 L4.6,-2.3 A2.3,2.3 0 0 1 0,-2.3 L0,-4.8 A2.3,2.3 0 0 1 4.6,-4.8"/><path vector-effect="non-scaling-stroke" transform="translate(40.600,0) scale(1.0,1)" d="M4.4,-10.2 C1.4,-10.2 0,-9 0,-5.6 L0,-2.3 A2.3,2.3 0 0 0 4.6,-2.3 L4.6,-4.6 A2.3,2.3 0 0 0 0,-4.6"/><path vector-effect="non-scaling-stroke" transform="translate(46.600,0) scale(1.0,1)" d="M0,-5.3 A2.3,2.3 0 0 1 4.6,-5.3 L4.6,-2.3 A2.3,2.3 0 0 1 0,-2.3 Z"/><path vector-effect="non-scaling-stroke" transform="translate(52.600,0) scale(1.0,1)" d="M0.6,-9.6 C1.8,-10.6 4.6,-10.6 4.6,-7.4 L4.6,-2.3 A2.3,2.3 0 0 1 0,-2.3 L0,-4.8 A2.3,2.3 0 0 1 4.6,-4.8"/><path vector-effect="non-scaling-stroke" transform="translate(58.600,0) scale(1.0,1)" d="M0,-7.6 L0,0 L2.4,0 C4.5,0 4.5,-4.2 2.4,-4.2 L0,-4.2 M6.2,-7.6 L6.2,0"/></g>
<line x1="503.2" y1="127.6" x2="571.5" y2="127.6" stroke="#555" stroke-width="0.8" />
<line x1="503.2" y1="127.6" x2="500.9" y2="158" stroke="#555" stroke-width="0.8" />
<g transform="translate(522.44,138.00) skewX(-15) scale(0.9279,0.8849)" fill="none" stroke="#3a3a3a" stroke-width="1.0" stroke-linecap="round" stroke-linejoin="round"><path vector-effect="non-scaling-stroke" transform="translate(0.000,0) scale(1.0,1)" d="M-0.4,2.2 L-0.4,0 L6.2,0 L6.2,2.2 M0.4,0 C1.5,-2.5 1.9,-6.5 1.9,-10 L5.3,-10 L5.3,0"/><path vector-effect="non-scaling-stroke" transform="translate(7.400,0) scale(1.0,1)" d="M0,-7.6 L0,-2.8 C0,-0.2 4.6,-0.2 4.6,-2.8 M4.6,-7.6 L4.6,0.8 C4.6,3.4 0.6,3.5 0,2.1"/><path vector-effect="non-scaling-stroke" transform="translate(17.400,0) scale(0.86,1)" d="M1.0,-7.6 L4,-10 L4,0"/><path vector-effect="non-scaling-stroke" transform="translate(23.312,0) scale(0.86,1)" d="M0,-7.5 A2.5,2.5 0 0 1 5,-7.5 L5,-2.5 A2.5,2.5 0 0 1 0,-2.5 Z"/><path vector-effect="non-scaling-stroke" transform="translate(29.912,0) scale(0.86,1)" d="M0,-7.5 A2.5,2.5 0 0 1 5,-7.5 L5,-2.5 A2.5,2.5 0 0 1 0,-2.5 Z"/></g>
<g transform="translate(323.16,221.25) skewX(-15) scale(0.9965,0.8824)" fill="none" stroke="#3a3a3a" stroke-width="1.0" stroke-linecap="round" stroke-linejoin="round"><path vector-effect="non-scaling-stroke" transform="translate(0.000,0) scale(1.0,1)" d="M0,-7.2 A2.8,2.8 0 0 1 5.6,-7.2 L5.6,-2.8 A2.8,2.8 0 0 1 0,-2.8 Z"/><path vector-effect="non-scaling-stroke" transform="translate(7.000,0) scale(1.0,1)" d="M0,0 L0,-7.6 M0,-5.3 C0,-8.1 3.1,-8.1 3.1,-5.3 L3.1,0 M3.1,-5.3 C3.1,-8.1 6.2,-8.1 6.2,-5.3 L6.2,0"/><path vector-effect="non-scaling-stroke" transform="translate(14.600,0) scale(1.0,1)" d="M4.4,-10.2 C1.4,-10.2 0,-9 0,-5.6 L0,-2.3 A2.3,2.3 0 0 0 4.6,-2.3 L4.6,-4.6 A2.3,2.3 0 0 0 0,-4.6"/><path vector-effect="non-scaling-stroke" transform="translate(20.600,0) scale(1.0,1)" d="M0,-5.3 A2.3,2.3 0 0 1 4.6,-5.3 L4.6,-2.3 A2.3,2.3 0 0 1 0,-2.3 Z"/><path vector-effect="non-scaling-stroke" transform="translate(26.600,0) scale(1.0,1)" d="M0.6,-9.6 C1.8,-10.6 4.6,-10.6 4.6,-7.4 L4.6,-2.3 A2.3,2.3 0 0 1 0,-2.3 L0,-4.8 A2.3,2.3 0 0 1 4.6,-4.8"/><path vector-effect="non-scaling-stroke" transform="translate(36.600,0) scale(1.0,1)" d="M4.4,-10.2 C1.4,-10.2 0,-9 0,-5.6 L0,-2.3 A2.3,2.3 0 0 0 4.6,-2.3 L4.6,-4.6 A2.3,2.3 0 0 0 0,-4.6"/><path vector-effect="non-scaling-stroke" transform="translate(42.600,0) scale(1.0,1)" d="M0,-5.3 A2.3,2.3 0 0 1 4.6,-5.3 L4.6,-2.3 A2.3,2.3 0 0 1 0,-2.3 Z"/><path vector-effect="non-scaling-stroke" transform="translate(48.600,0) scale(1.0,1)" d="M0.6,-9.6 C1.8,-10.6 4.6,-10.6 4.6,-7.4 L4.6,-2.3 A2.3,2.3 0 0 1 0,-2.3 L0,-4.8 A2.3,2.3 0 0 1 4.6,-4.8"/><path vector-effect="non-scaling-stroke" transform="translate(54.600,0) scale(1.0,1)" d="M0,-7.6 L0,0 L2.4,0 C4.5,0 4.5,-4.2 2.4,-4.2 L0,-4.2 M6.2,-7.6 L6.2,0"/></g>
<line x1="323.0" y1="222.3" x2="388.0" y2="222.3" stroke="#555" stroke-width="0.8" />
<line x1="388.0" y1="222.3" x2="389.6" y2="171.0" stroke="#555" stroke-width="0.8" />
<g transform="translate(338.09,233.75) skewX(-15) scale(0.9211,0.9695)" fill="none" stroke="#3a3a3a" stroke-width="1.0" stroke-linecap="round" stroke-linejoin="round"><path vector-effect="non-scaling-stroke" transform="translate(0.000,0) scale(1.0,1)" d="M-0.4,2.2 L-0.4,0 L6.2,0 L6.2,2.2 M0.4,0 C1.5,-2.5 1.9,-6.5 1.9,-10 L5.3,-10 L5.3,0"/><path vector-effect="non-scaling-stroke" transform="translate(7.400,0) scale(1.0,1)" d="M0,-7.6 L0,-2.8 C0,-0.2 4.6,-0.2 4.6,-2.8 M4.6,-7.6 L4.6,0.8 C4.6,3.4 0.6,3.5 0,2.1"/><path vector-effect="non-scaling-stroke" transform="translate(17.400,0) scale(0.86,1)" d="M1.0,-7.6 L4,-10 L4,0"/><path vector-effect="non-scaling-stroke" transform="translate(23.312,0) scale(0.86,1)" d="M0,-7.5 A2.5,2.5 0 0 1 5,-7.5 L5,-2.5 A2.5,2.5 0 0 1 0,-2.5 Z"/><path vector-effect="non-scaling-stroke" transform="translate(29.912,0) scale(0.86,1)" d="M0,-7.5 A2.5,2.5 0 0 1 5,-7.5 L5,-2.5 A2.5,2.5 0 0 1 0,-2.5 Z"/></g>
<line x1="70.85000000000001" y1="235.0" x2="244.85000000000002" y2="235.0" stroke="#999" stroke-width="1.1" />
<line x1="244.3" y1="235.0" x2="244.3" y2="343.1" stroke="#999" stroke-width="1.1" />
<line x1="70.85000000000001" y1="343.1" x2="244.85000000000002" y2="343.1" stroke="#848484" stroke-width="1.1" />
<line x1="71.4" y1="235.0" x2="71.4" y2="343.1" stroke="#a0a0a0" stroke-width="1.1" />
<line x1="37" y1="229.1" x2="302" y2="229.1" stroke="#555" stroke-width="1.0" />
<line x1="56.5" y1="231.6" x2="80.5" y2="231.6" stroke="#707070" stroke-width="0.8" />
<line x1="37" y1="366.3" x2="170" y2="366.3" stroke="#707070" stroke-width="0.8" />
<line x1="56.5" y1="346.3" x2="80" y2="346.3" stroke="#707070" stroke-width="0.8" />
<line x1="38.5" y1="229.1" x2="38.5" y2="366.3" stroke="#707070" stroke-width="0.8" />
<polygon points="38.5,229.1 37.5,233.1 39.5,233.1" fill="#555" stroke="none" stroke-width="0"/>
<polygon points="38.5,366.3 37.5,362.3 39.5,362.3" fill="#555" stroke="none" stroke-width="0"/>
<line x1="58.7" y1="231.6" x2="58.7" y2="346.3" stroke="#707070" stroke-width="0.8" />
<polygon points="58.7,231.6 57.7,235.6 59.7,235.6" fill="#555" stroke="none" stroke-width="0"/>
<polygon points="58.7,346.3 57.7,342.3 59.7,342.3" fill="#555" stroke="none" stroke-width="0"/>
<g transform="translate(26.60,311.00) rotate(-90) translate(0.45,10.15) skewX(-15) scale(0.9278,0.9700)" fill="none" stroke="#808080" stroke-width="0.95" stroke-linecap="round" stroke-linejoin="round"><path vector-effect="non-scaling-stroke" transform="translate(0.000,0) scale(0.86,1)" d="M0.1,-7.6 C0.3,-10.6 5,-10.6 5,-7.5 C5,-5.4 1.5,-3.2 0,0 L5,0"/><path vector-effect="non-scaling-stroke" transform="translate(6.600,0) scale(0.86,1)" d="M0,-7.5 A2.5,2.5 0 0 1 5,-7.5 L5,-2.5 A2.5,2.5 0 0 1 0,-2.5 Z"/><path vector-effect="non-scaling-stroke" transform="translate(13.200,0) scale(0.86,1)" d="M0.4,-10 L5,-10 L2.1,-6.1 C4,-6.2 5.1,-5 5.1,-3 C5.1,-0.6 3.6,0 2.5,0 C1.2,0 0.3,-0.5 0,-1.5"/><path vector-effect="non-scaling-stroke" transform="translate(19.800,0) scale(0.86,1)" d="M4.8,-10 L0.8,-10 L0.4,-5.6 C1.2,-6.4 5.1,-6.8 5.1,-3 C5.1,0.6 0.6,0.5 0,-1.5"/></g>
<g transform="translate(47.80,301.00) rotate(-90) translate(-2.25,9.55) skewX(-15) scale(0.9861,0.9100)" fill="none" stroke="#808080" stroke-width="0.95" stroke-linecap="round" stroke-linejoin="round"><path vector-effect="non-scaling-stroke" transform="translate(0.000,0) scale(0.86,1)" d="M1.0,-7.6 L4,-10 L4,0"/><path vector-effect="non-scaling-stroke" transform="translate(5.912,0) scale(0.86,1)" d="M0,-10 L5,-10 L1.4,0"/><path vector-effect="non-scaling-stroke" transform="translate(12.512,0) scale(0.86,1)" d="M0,-7.5 A2.5,2.5 0 0 1 5,-7.5 L5,-2.5 A2.5,2.5 0 0 1 0,-2.5 Z"/><path vector-effect="non-scaling-stroke" transform="translate(19.112,0) scale(0.86,1)" d="M0,-7.5 A2.5,2.5 0 0 1 5,-7.5 L5,-2.5 A2.5,2.5 0 0 1 0,-2.5 Z"/></g>
<line x1="60" y1="289.2" x2="290" y2="289.2" stroke="#b0b0b0" stroke-width="0.8" stroke-dasharray="9,2.5,2,2.5"/>
<g transform="translate(81.6,227.4)"><rect x="-2.8" y="-3.7" width="5.6" height="7.2" rx="2.6" ry="2.8" fill="#111"/><circle cx="0" cy="0" r="1.55" fill="#fff"/><circle cx="0" cy="0" r="0.7" fill="#000"/><rect x="-1.7" y="3.3" width="1.1" height="4.4" fill="#333"/><rect x="0.6" y="3.3" width="1.1" height="4.4" fill="#333"/></g>
<g transform="translate(150.0,227.4)"><rect x="-2.8" y="-3.7" width="5.6" height="7.2" rx="2.6" ry="2.8" fill="#111"/><circle cx="0" cy="0" r="1.55" fill="#fff"/><circle cx="0" cy="0" r="0.7" fill="#000"/><rect x="-1.7" y="3.3" width="1.1" height="4.4" fill="#333"/><rect x="0.6" y="3.3" width="1.1" height="4.4" fill="#333"/></g>
<g transform="translate(200.6,227.4)"><rect x="-2.8" y="-3.7" width="5.6" height="7.2" rx="2.6" ry="2.8" fill="#111"/><circle cx="0" cy="0" r="1.55" fill="#fff"/><circle cx="0" cy="0" r="0.7" fill="#000"/><rect x="-1.7" y="3.3" width="1.1" height="4.4" fill="#333"/><rect x="0.6" y="3.3" width="1.1" height="4.4" fill="#333"/></g>
<g transform="translate(81.3,350.0) scale(1,-1)"><rect x="-2.8" y="-3.7" width="5.6" height="7.2" rx="2.6" ry="2.8" fill="#111"/><circle cx="0" cy="0" r="1.55" fill="#fff"/><circle cx="0" cy="0" r="0.7" fill="#000"/><rect x="-1.7" y="3.3" width="1.1" height="4.0" fill="#333"/><rect x="0.6" y="3.3" width="1.1" height="4.0" fill="#333"/></g>
<g transform="translate(112.5,350.0) scale(1,-1)"><rect x="-2.8" y="-3.7" width="5.6" height="7.2" rx="2.6" ry="2.8" fill="#111"/><circle cx="0" cy="0" r="1.55" fill="#fff"/><circle cx="0" cy="0" r="0.7" fill="#000"/><rect x="-1.7" y="3.3" width="1.1" height="4.0" fill="#333"/><rect x="0.6" y="3.3" width="1.1" height="4.0" fill="#333"/></g>
<g transform="translate(160.4,350.0) scale(1,-1)"><rect x="-2.8" y="-3.7" width="5.6" height="7.2" rx="2.6" ry="2.8" fill="#111"/><circle cx="0" cy="0" r="1.55" fill="#fff"/><circle cx="0" cy="0" r="0.7" fill="#000"/><rect x="-1.7" y="3.3" width="1.1" height="4.0" fill="#333"/><rect x="0.6" y="3.3" width="1.1" height="4.0" fill="#333"/></g>
<rect x="211.9" y="228.9" width="15" height="1.8" fill="#333"/>
<line x1="215.6" y1="230.5" x2="215.6" y2="235" stroke="#444" stroke-width="0.9" />
<line x1="223.1" y1="230.5" x2="223.1" y2="235" stroke="#444" stroke-width="0.9" />
<rect x="205.5" y="347.1" width="15.3" height="1.8" fill="#333"/>
<line x1="209.7" y1="343.1" x2="209.7" y2="347.2" stroke="#444" stroke-width="0.9" />
<line x1="216.7" y1="343.1" x2="216.7" y2="347.2" stroke="#444" stroke-width="0.9" />
<g transform="translate(81.3,246.9)"><rect x="-2.9" y="-0.1" width="5.8" height="1.3" fill="#111"/><polygon points="-0.8,1.1 0.8,1.1 2.6,4.4 -2.6,4.4" fill="#111"/><path d="M-2.6,4.2 L2.6,4.2 L2.5,6.4 Q2.5,8.6 0,8.6 Q-2.5,8.6 -2.5,6.4 Z" fill="#111"/><rect x="-2.4" y="5.1" width="4.8" height="0.5" fill="#bbb"/></g>
<g transform="translate(168.7,246.9)"><rect x="-2.9" y="-0.1" width="5.8" height="1.3" fill="#111"/><polygon points="-0.8,1.1 0.8,1.1 2.6,4.4 -2.6,4.4" fill="#111"/><path d="M-2.6,4.2 L2.6,4.2 L2.5,6.4 Q2.5,8.6 0,8.6 Q-2.5,8.6 -2.5,6.4 Z" fill="#111"/><rect x="-2.4" y="5.1" width="4.8" height="0.5" fill="#bbb"/></g>
<g transform="translate(200.6,238.2)"><rect x="-2.9" y="-0.1" width="5.8" height="1.3" fill="#111"/><polygon points="-0.8,1.1 0.8,1.1 2.6,4.4 -2.6,4.4" fill="#111"/><path d="M-2.6,4.2 L2.6,4.2 L2.5,6.4 Q2.5,8.6 0,8.6 Q-2.5,8.6 -2.5,6.4 Z" fill="#111"/><rect x="-2.4" y="5.1" width="4.8" height="0.5" fill="#bbb"/></g>
<g transform="translate(103.9,326.0)"><rect x="-2.9" y="-0.1" width="5.8" height="1.3" fill="#111"/><polygon points="-0.8,1.1 0.8,1.1 2.6,4.4 -2.6,4.4" fill="#111"/><path d="M-2.6,4.2 L2.6,4.2 L2.5,6.4 Q2.5,8.6 0,8.6 Q-2.5,8.6 -2.5,6.4 Z" fill="#111"/><rect x="-2.4" y="5.1" width="4.8" height="0.5" fill="#bbb"/></g>
<rect x="88.0" y="244.2" width="10.799999999999997" height="1.6" fill="#555"/>
<rect x="216.3" y="244.2" width="10.599999999999994" height="1.6" fill="#555"/>
<rect x="88.0" y="331.8" width="10.799999999999997" height="1.6" fill="#555"/>
<rect x="216.5" y="332.0" width="10.099999999999994" height="1.6" fill="#555"/>
<rect x="67.2" y="270.5" width="4.2" height="37" fill="#8a8a8a" stroke="#1a1a1a" stroke-width="0.9"/>
<polygon points="65.6,269.6 71.4,269.6 71.4,273.5 69.2,273.5" fill="#1a1a1a"/>
<rect x="67.4" y="303.5" width="4" height="4.2" fill="#1a1a1a"/>
<rect x="65.9" y="279.29999999999995" width="2" height="2.2" rx="0.5" fill="#222"/>
<rect x="65.9" y="287.9" width="2" height="2.2" rx="0.5" fill="#222"/>
<rect x="65.9" y="296.5" width="2" height="2.2" rx="0.5" fill="#222"/>
<g transform="translate(244.3,244.9)"><rect x="0" y="-1.6" width="4.8" height="1" fill="#444"/><rect x="0" y="0.6" width="4.8" height="1" fill="#444"/><rect x="4.2" y="-3.0" width="7.4" height="6.0" rx="2.8" fill="#111"/><circle cx="7.4" cy="0" r="1.55" fill="#fff"/><circle cx="7.4" cy="0" r="0.7" fill="#000"/></g>
<g transform="translate(244.3,254.4)"><rect x="0" y="-1.6" width="4.8" height="1" fill="#444"/><rect x="0" y="0.6" width="4.8" height="1" fill="#444"/><rect x="4.2" y="-3.0" width="7.4" height="6.0" rx="2.8" fill="#111"/><circle cx="7.4" cy="0" r="1.55" fill="#fff"/><circle cx="7.4" cy="0" r="0.7" fill="#000"/></g>
<g transform="translate(244.3,323.1)"><rect x="0" y="-1.6" width="4.8" height="1" fill="#444"/><rect x="0" y="0.6" width="4.8" height="1" fill="#444"/><rect x="4.2" y="-3.0" width="7.4" height="6.0" rx="2.8" fill="#111"/><circle cx="7.4" cy="0" r="1.55" fill="#fff"/><circle cx="7.4" cy="0" r="0.7" fill="#000"/></g>
<g transform="translate(244.3,332.7)"><rect x="0" y="-1.6" width="4.8" height="1" fill="#444"/><rect x="0" y="0.6" width="4.8" height="1" fill="#444"/><rect x="4.2" y="-3.0" width="7.4" height="6.0" rx="2.8" fill="#111"/><circle cx="7.4" cy="0" r="1.55" fill="#fff"/><circle cx="7.4" cy="0" r="0.7" fill="#000"/></g>
<rect x="244.2" y="266.6" width="1.7" height="43" fill="#3a3a3a"/>
<line x1="245" y1="268.3" x2="279.4" y2="268.3" stroke="#505050" stroke-width="0.9" />
<line x1="245" y1="309.5" x2="279.4" y2="309.5" stroke="#505050" stroke-width="0.9" />
<line x1="279.4" y1="265.6" x2="279.4" y2="312" stroke="#505050" stroke-width="1.0" />
<line x1="271" y1="268.3" x2="271" y2="312" stroke="#bbb" stroke-width="0.8" stroke-dasharray="1.5,1.2"/>
<line x1="252.5" y1="309.5" x2="252.5" y2="311.5" stroke="#777" stroke-width="0.6" />
<line x1="262.2" y1="309.5" x2="262.2" y2="311.5" stroke="#777" stroke-width="0.6" />
<line x1="252.5" y1="309.5" x2="252.5" y2="353.1" stroke="#505050" stroke-width="0.8" />
<line x1="262.2" y1="309.5" x2="262.2" y2="363.2" stroke="#505050" stroke-width="0.8" />
<line x1="152.3" y1="353.1" x2="252.5" y2="353.1" stroke="#505050" stroke-width="0.8" />
<line x1="141.9" y1="363.3" x2="262.2" y2="363.3" stroke="#505050" stroke-width="0.8" />
<line x1="141.9" y1="343.1" x2="141.9" y2="363.3" stroke="#505050" stroke-width="0.8" />
<line x1="152.3" y1="343.1" x2="152.3" y2="353.1" stroke="#505050" stroke-width="0.8" />
<line x1="156.3" y1="353.1" x2="156.3" y2="363.3" stroke="#444" stroke-width="0.9" />
<line x1="159.4" y1="353.1" x2="159.4" y2="363.3" stroke="#444" stroke-width="0.9" />
<line x1="170" y1="353.1" x2="170" y2="366.3" stroke="#bbb" stroke-width="0.8" stroke-dasharray="1.5,1"/>
<line x1="183.5" y1="358" x2="183.5" y2="369.5" stroke="#222" stroke-width="0.8" />
<circle cx="183.5" cy="358" r="0.8" fill="#222"/>
<circle cx="183.5" cy="372.8" r="3.3" fill="#fff" stroke="#222" stroke-width="0.9"/>
<rect x="173.7" y="252.7" width="30.30000000000001" height="72.5" fill="#d0d0d0" stroke="#333" stroke-width="1.0"/>
<rect x="177.0" y="256.1" width="23.70000000000001" height="66.1" fill="#fff" stroke="#444" stroke-width="0.9"/>
<line x1="198.7" y1="253.2" x2="198.7" y2="324.8" stroke="#999" stroke-width="0.7" stroke-dasharray="2.2,1.3"/>
<line x1="177.7" y1="253" x2="177.7" y2="256" stroke="#555" stroke-width="0.7"/>
<line x1="200.0" y1="253" x2="200.0" y2="256" stroke="#555" stroke-width="0.7"/>
<line x1="177.0" y1="321.5" x2="200.7" y2="321.5" stroke="#bbb" stroke-width="0.6" stroke-dasharray="1.5,1.2"/>
<rect x="207.7" y="252.7" width="29.900000000000006" height="72.5" fill="#d0d0d0" stroke="#333" stroke-width="1.0"/>
<rect x="211.0" y="256.1" width="23.300000000000004" height="66.1" fill="#fff" stroke="#444" stroke-width="0.9"/>
<line x1="213.3" y1="253.2" x2="213.3" y2="324.8" stroke="#999" stroke-width="0.7" stroke-dasharray="2.2,1.3"/>
<line x1="211.7" y1="253" x2="211.7" y2="256" stroke="#555" stroke-width="0.7"/>
<line x1="233.6" y1="253" x2="233.6" y2="256" stroke="#555" stroke-width="0.7"/>
<line x1="211.0" y1="321.5" x2="234.29999999999998" y2="321.5" stroke="#bbb" stroke-width="0.6" stroke-dasharray="1.5,1.2"/>
<circle cx="175.5" cy="256.0" r="1.6" fill="#000"/>
<circle cx="175.5" cy="272.2" r="1.6" fill="#000"/>
<circle cx="175.5" cy="305.8" r="1.6" fill="#000"/>
<circle cx="175.5" cy="322.5" r="1.6" fill="#000"/>
<circle cx="235.9" cy="256.0" r="1.6" fill="#000"/>
<circle cx="235.9" cy="272.2" r="1.6" fill="#000"/>
<circle cx="235.9" cy="305.8" r="1.6" fill="#000"/>
<circle cx="235.9" cy="322.5" r="1.6" fill="#000"/>
<rect x="202.4" y="265" width="2.3" height="13.5" fill="#d4d4d4" stroke="#555" stroke-width="0.5"/>
<rect x="207.0" y="265" width="2.3" height="13.5" fill="#d4d4d4" stroke="#555" stroke-width="0.5"/>
<rect x="202.4" y="299.5" width="2.3" height="11.699999999999989" fill="#d4d4d4" stroke="#555" stroke-width="0.5"/>
<rect x="207.0" y="299.5" width="2.3" height="11.699999999999989" fill="#d4d4d4" stroke="#555" stroke-width="0.5"/>
<line x1="60" y1="289.2" x2="290" y2="289.2" stroke="#b0b0b0" stroke-width="0.8" stroke-dasharray="9,2.5,2,2.5"/>
<line x1="187.5" y1="304.5" x2="233.8" y2="380.2" stroke="#666" stroke-width="0.7" />
<line x1="220.5" y1="306.5" x2="233.8" y2="380.2" stroke="#666" stroke-width="0.7" />
<line x1="233.8" y1="380.2" x2="267.5" y2="380.2" stroke="#777" stroke-width="0.8" />
<g transform="translate(242.75,377.15) skewX(-15) scale(0.8805,0.9300)" fill="none" stroke="#3a3a3a" stroke-width="1.0" stroke-linecap="round" stroke-linejoin="round"><path vector-effect="non-scaling-stroke" transform="translate(0.000,0) scale(1.0,1)" d="M0,0 C1.8,-2 2.3,-6.5 2.3,-10 L6.0,-10 L6.0,0"/><path vector-effect="non-scaling-stroke" transform="translate(7.400,0) scale(1.0,1)" d="M0,-7.6 L0,0 M0,-3.8 L1.6,-3.8 M1.6,-5.3 A2.3,2.3 0 0 1 6.2,-5.3 L6.2,-2.3 A2.3,2.3 0 0 1 1.6,-2.3 Z"/><path vector-effect="non-scaling-stroke" transform="translate(15.000,0) scale(1.0,1)" d="M0,-7.6 L0,0 M4.2,-7.6 L0.4,-3.8 L4.4,0"/></g>
<line x1="245" y1="348.2" x2="302.5" y2="348.2" stroke="#707070" stroke-width="0.8" />
<line x1="300.7" y1="229.1" x2="300.7" y2="348.2" stroke="#707070" stroke-width="0.8" />
<polygon points="300.7,229.1 299.7,233.1 301.7,233.1" fill="#555" stroke="none" stroke-width="0"/>
<polygon points="300.7,348.2 299.7,344.2 301.7,344.2" fill="#555" stroke="none" stroke-width="0"/>
<g transform="translate(289.10,300.50) rotate(-90) translate(-2.37,10.15) skewX(-15) scale(0.9857,0.9700)" fill="none" stroke="#808080" stroke-width="0.95" stroke-linecap="round" stroke-linejoin="round"><path vector-effect="non-scaling-stroke" transform="translate(0.000,0) scale(0.86,1)" d="M1.0,-7.6 L4,-10 L4,0"/><path vector-effect="non-scaling-stroke" transform="translate(5.912,0) scale(0.86,1)" d="M0,-10 L5,-10 L1.4,0"/><path vector-effect="non-scaling-stroke" transform="translate(12.512,0) scale(0.86,1)" d="M0,-10 L5,-10 L1.4,0"/><path vector-effect="non-scaling-stroke" transform="translate(19.112,0) scale(0.86,1)" d="M0,-7.5 A2.5,2.5 0 0 1 5,-7.5 L5,-2.5 A2.5,2.5 0 0 1 0,-2.5 Z"/></g>
<g transform="translate(445.75,273.45) skewX(-15) scale(1.2069,1.1700)" fill="none" stroke="#505050" stroke-width="0.95" stroke-linecap="round" stroke-linejoin="round"><path vector-effect="non-scaling-stroke" transform="translate(0.000,0) scale(1.0,1)" d="M0,0 L3.1,-10 L5.8,0 M1.05,-3.4 L5.0,-3.4"/></g>
<line x1="380.7" y1="288.7" x2="519.5" y2="288.7" stroke="#aaa" stroke-width="1.0" />
<line x1="519.0" y1="288.7" x2="519.0" y2="345.2" stroke="#b0b0b0" stroke-width="1.0" />
<line x1="380.7" y1="345.2" x2="519.5" y2="345.2" stroke="#999" stroke-width="1.0" />
<line x1="381.2" y1="288.7" x2="381.2" y2="345.2" stroke="#a8a8a8" stroke-width="1.0" />
<line x1="381.2" y1="296.6" x2="541.3" y2="296.6" stroke="#888" stroke-width="1.2" />
<line x1="381.2" y1="337.4" x2="541.3" y2="337.4" stroke="#555" stroke-width="1.0" />
<line x1="389.4" y1="296.6" x2="389.4" y2="371" stroke="#999" stroke-width="0.9" />
<line x1="511.0" y1="296.6" x2="511.0" y2="371" stroke="#9a9a9a" stroke-width="0.9" />
<line x1="504.4" y1="297" x2="504.4" y2="337" stroke="#e4e4e4" stroke-width="0.6" />
<line x1="450" y1="268" x2="450" y2="352" stroke="#c4c4c4" stroke-width="0.7" stroke-dasharray="9,2,1.5,2"/>
<line x1="368" y1="317.1" x2="524" y2="317.1" stroke="#c4c4c4" stroke-width="0.7" stroke-dasharray="9,2,1.5,2"/>
<polygon points="391.6,299.4 401.9,324.0 508.5,334.9 391.6,334.9" fill="#000" stroke="none" stroke-width="0"/>
<line x1="540.2" y1="296.6" x2="540.2" y2="337.4" stroke="#707070" stroke-width="0.8" />
<polygon points="540.2,296.6 539.2,300.6 541.2,300.6" fill="#555" stroke="none" stroke-width="0"/>
<polygon points="540.2,337.4 539.2,333.4 541.2,333.4" fill="#555" stroke="none" stroke-width="0"/>
<g transform="translate(528.30,327.20) rotate(-90) translate(0.45,9.75) skewX(-15) scale(1.0140,0.9300)" fill="none" stroke="#808080" stroke-width="0.95" stroke-linecap="round" stroke-linejoin="round"><path vector-effect="non-scaling-stroke" transform="translate(0.000,0) scale(0.86,1)" d="M0.1,-7.6 C0.3,-10.6 5,-10.6 5,-7.5 C5,-5.4 1.5,-3.2 0,0 L5,0"/><path vector-effect="non-scaling-stroke" transform="translate(6.600,0) scale(0.86,1)" d="M0,-7.5 A2.5,2.5 0 0 1 5,-7.5 L5,-2.5 A2.5,2.5 0 0 1 0,-2.5 Z"/><path vector-effect="non-scaling-stroke" transform="translate(13.200,0) scale(0.86,1)" d="M0,-7.5 A2.5,2.5 0 0 1 5,-7.5 L5,-2.5 A2.5,2.5 0 0 1 0,-2.5 Z"/></g>
<line x1="389.4" y1="369.7" x2="511.0" y2="369.7" stroke="#707070" stroke-width="0.8" />
<polygon points="389.4,369.7 393.4,368.7 393.4,370.7" fill="#555" stroke="none" stroke-width="0"/>
<polygon points="511.0,369.7 507.0,368.7 507.0,370.7" fill="#555" stroke="none" stroke-width="0"/>
<g transform="translate(439.41,367.65) skewX(-15) scale(1.0669,0.9400)" fill="none" stroke="#808080" stroke-width="0.95" stroke-linecap="round" stroke-linejoin="round"><path vector-effect="non-scaling-stroke" transform="translate(0.000,0) scale(0.86,1)" d="M4.7,-8.6 C4,-10.5 0,-10.6 0,-5.4 L0,-2.5 A2.5,2.5 0 0 0 5,-2.5 L5,-3.6 A2.5,2.5 0 0 0 0,-3.6"/><path vector-effect="non-scaling-stroke" transform="translate(6.600,0) scale(0.86,1)" d="M0,-7.5 A2.5,2.5 0 0 1 5,-7.5 L5,-2.5 A2.5,2.5 0 0 1 0,-2.5 Z"/><path vector-effect="non-scaling-stroke" transform="translate(13.200,0) scale(0.86,1)" d="M0,-7.5 A2.5,2.5 0 0 1 5,-7.5 L5,-2.5 A2.5,2.5 0 0 1 0,-2.5 Z"/></g>
<g transform="translate(333.80,310.45) skewX(-15) scale(0.9186,0.9500)" fill="none" stroke="#808080" stroke-width="0.95" stroke-linecap="round" stroke-linejoin="round"><path vector-effect="non-scaling-stroke" transform="translate(0.000,0) scale(0.86,1)" d="M0,-4.5 L5,-4.5 M2.5,-7 L2.5,-2"/><path vector-effect="non-scaling-stroke" transform="translate(6.600,0) scale(0.86,1)" d="M1.0,-7.6 L4,-10 L4,0"/><path vector-effect="non-scaling-stroke" transform="translate(12.512,0) scale(1.0,1)" d="M0.3,-0.4 L0.9,-0.4"/><path vector-effect="non-scaling-stroke" transform="translate(15.112,0) scale(0.86,1)" d="M4.7,-8.6 C4,-10.5 0,-10.6 0,-5.4 L0,-2.5 A2.5,2.5 0 0 0 5,-2.5 L5,-3.6 A2.5,2.5 0 0 0 0,-3.6"/><path vector-effect="non-scaling-stroke" transform="translate(21.712,0) scale(0.86,1)" d="M0,-10 L5,-10 L1.4,0"/><path vector-effect="non-scaling-stroke" transform="translate(28.312,0) scale(0.86,1)" d="M4.8,-10 L0.8,-10 L0.4,-5.6 C1.2,-6.4 5.1,-6.8 5.1,-3 C5.1,0.6 0.6,0.5 0,-1.5"/></g>
<path d="M332.6,312.4 L366.2,312.4 Q368.2,312.6 368.6,316.6" fill="none" stroke="#666" stroke-width="0.8"/>
<path d="M366.4,314.6 L368.6,316.9 L370.8,314.6" fill="none" stroke="#444" stroke-width="0.8"/>
<line x1="368" y1="317.2" x2="385" y2="317.2" stroke="#888" stroke-width="0.7" />
</g>
</svg></body></html>
